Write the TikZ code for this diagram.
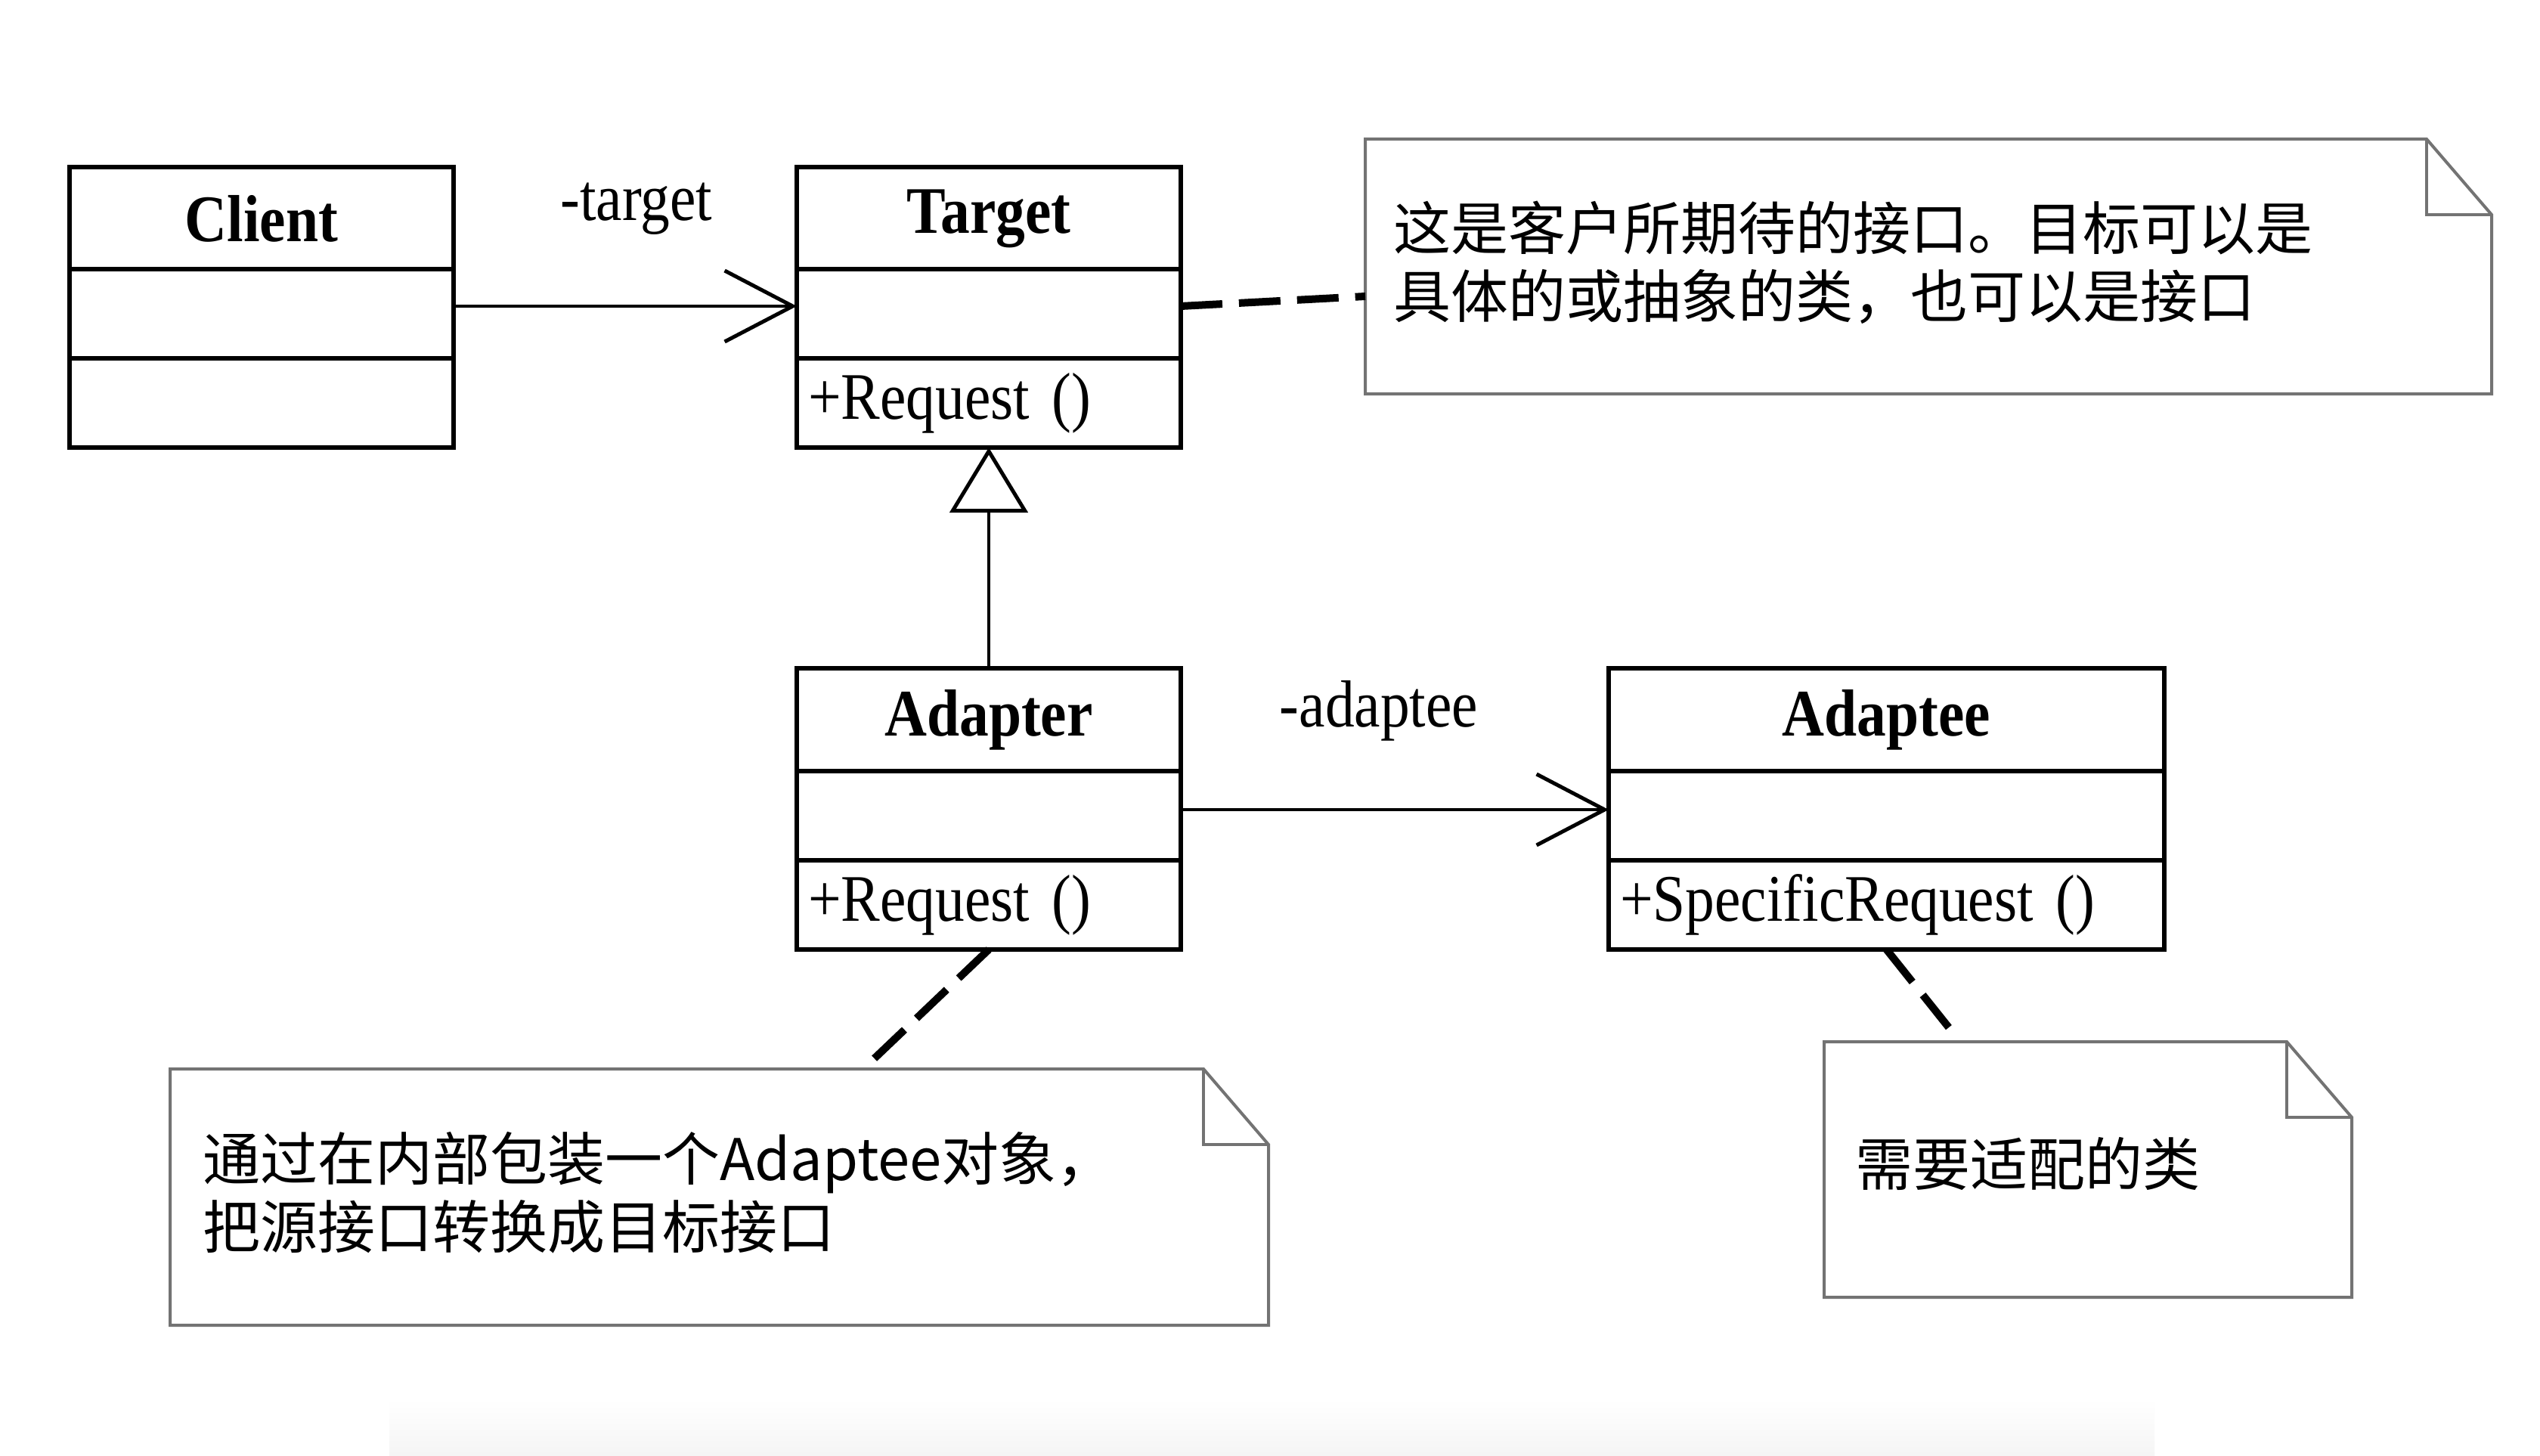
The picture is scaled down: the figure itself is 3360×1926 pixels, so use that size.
\documentclass[tikz,border=0pt]{standalone}
\usepackage{fontspec}
\setmainfont{Liberation Serif}[FakeStretch=0.88]
\newfontfamily\cjk{Noto Sans CJK SC}
\usetikzlibrary{arrows.meta,calc}
\begin{document}
\begin{tikzpicture}[x=1pt,y=-1pt,
  cls/.style={draw, line width=6pt, fill=white, inner sep=0pt, outer sep=0pt},
  hdr/.style={cls, minimum height=136pt, font=\fontsize{88}{92}\selectfont\bfseries},
  attr/.style={cls, minimum height=118pt},
  ops/.style={cls, minimum height=118pt, inner xsep=15pt, align=left, font=\fontsize{88}{92}\selectfont},
  lbl/.style={inner sep=0pt, font=\fontsize{88}{92}\selectfont},
  assoc/.style={line width=4pt, -{Straight Barb[length=90pt,width=94pt,line width=5pt]}},
  gen/.style={line width=4pt, -{Triangle[open,length=86pt,width=103pt,line width=5pt]}},
  dashlink/.style={line width=10pt, dash pattern=on 55pt off 22pt},
  notebox/.style={inner sep=0pt, outer sep=0pt},
  noteline/.style={draw=black!55, line width=4pt, line join=miter},
  notetext/.style={inner sep=0pt, anchor=west, align=left, font=\cjk\fontsize{76}{90}\selectfont}
]
\fill[white] (0,0) rectangle (3360,1926);
\useasboundingbox (0,0) rectangle (3360,1926);
\shade[top color=white, bottom color=black!4] (515,1850) rectangle (2850,1926);

% Client
\node[hdr, minimum width=508pt] (clientH) at (346,289) {Client};
\node[attr, minimum width=508pt] (clientA) at (346,415) {};
\node[attr, minimum width=508pt] (clientO) at (346,533) {};
% Target
\node[hdr, minimum width=508pt] (targetH) at (1308,289) {Target};
\node[attr, minimum width=508pt] (targetA) at (1308,415) {};
\node[ops, minimum width=508pt, text width=478pt] (targetO) at (1308,533) {+Request ()};
% Adapter
\node[hdr, minimum width=508pt] (adapterH) at (1308,952) {Adapter};
\node[attr, minimum width=508pt] (adapterA) at (1308,1079) {};
\node[ops, minimum width=508pt, text width=478pt] (adapterO) at (1308,1197) {+Request ()};
% Adaptee
\node[hdr, minimum width=735pt] (adapteeH) at (2495.5,952) {Adaptee};
\node[attr, minimum width=735pt] (adapteeA) at (2495.5,1079) {};
\node[ops, minimum width=735pt, text width=705pt] (adapteeO) at (2495.5,1197) {+SpecificRequest ()};

% labels
\node[lbl] (ltarget) at (842,276) {-target};
\node[lbl] (ladaptee) at (1824,940) {-adaptee};

% notes
\node[notebox, minimum width=1490pt, minimum height=337pt] (note1) at (2551,352.5) {};
\node[notebox, minimum width=1453pt, minimum height=339pt] (note2) at (951.5,1583.5) {};
\node[notebox, minimum width=698pt, minimum height=338pt] (note3) at (2762,1547) {};
\foreach \n in {note1,note2,note3}{
  \draw[noteline] (\n.north west) -- ([xshift=-86pt]\n.north east) -- ([yshift=-100pt]\n.north east)
     -- (\n.south east) -- (\n.south west) -- cycle;
  \draw[noteline] ([xshift=-86pt]\n.north east) -- ([xshift=-86pt,yshift=-100pt]\n.north east)
     -- ([yshift=-100pt]\n.north east);
}
\node[notetext] (note1t) at (1843,347) {这是客户所期待的接口。目标可以是\\具体的或抽象的类，也可以是接口};
\node[notetext] (note2t) at (268,1578) {通过在内部包装一个Adaptee对象，\\把源接口转换成目标接口};
\node[notetext] (note3t) at (2454,1539) {需要适配的类};

% connectors
\draw[assoc] ([yshift=10pt]clientA.east) -- ([yshift=10pt]targetA.west);
\draw[assoc] ([yshift=8pt]adapterA.east) -- ([yshift=8pt]adapteeA.west);
\draw[gen] (adapterH.north) -- (targetO.south);
\draw[dashlink] ([yshift=10pt]targetA.east) -- ([yshift=-39.5pt]note1.west);
\draw[dashlink] (adapterO.south) -- ([xshift=190.5pt]note2.north);
\draw[dashlink, shorten >=15pt] (adapteeO.south) -- ([xshift=-169pt]note3.north);
\end{tikzpicture}
\end{document}
